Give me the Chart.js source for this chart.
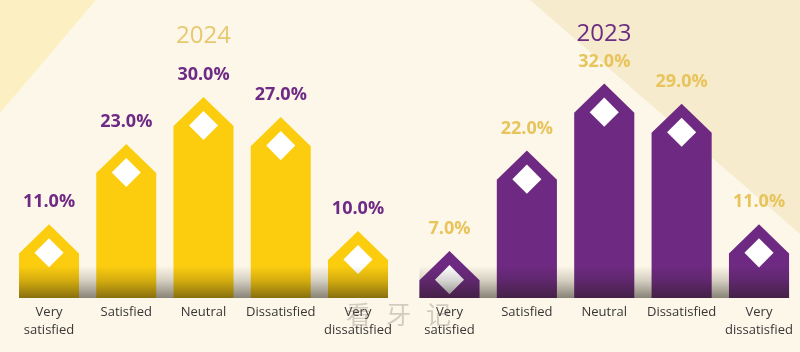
<!DOCTYPE html>
<html>
<head>
<meta charset="utf-8">
<script src="https://cdn.jsdelivr.net/npm/chart.js@4/dist/chart.umd.min.js"></script>
<style>
  html, body { margin:0; padding:0; }
  body { width:800px; height:352px; overflow:hidden; position:relative; background:#FDF7E9; font-family:"Open Sans", sans-serif; }
  .bg { position:absolute; left:0; top:0; width:800px; height:352px; }
  .tl { background:#FCEFC2; clip-path:polygon(0px 0px, 96px 0px, 0px 113px); }
  .tr { background:#F6EBCC; clip-path:polygon(530px 0px, 800px 0px, 800px 234px); }
  canvas { position:absolute; top:0; }
  #c1 { left:0; }
  #c2 { left:400px; }
  .ttl { position:absolute; width:200px; text-align:center; font-family:"Open Sans", sans-serif; font-weight:400; font-size:24px; line-height:30px; }
  .wm { position:absolute; top:298px; font-family:"Noto Sans CJK SC", sans-serif; font-size:25px; line-height:30px; color:rgba(110,105,95,0.30); }
</style>
</head>
<body>
<div class="bg tl"></div>
<div class="bg tr"></div>
<canvas id="c1" width="400" height="352"></canvas>
<canvas id="c2" width="400" height="352"></canvas>
<div class="ttl" id="t1" style="left:103.5px; top:19px; color:#E6C96F;"></div>
<div class="ttl" id="t2" style="left:504px; top:17px; color:#6B2C82;"></div>
<div class="wm" style="left:346px">看</div>
<div class="wm" style="left:386px">牙</div>
<div class="wm" style="left:426px">记</div>
<script>
const categories = [["Very", "satisfied"], "Satisfied", "Neutral", "Dissatisfied", ["Very", "dissatisfied"]];
const values2024 = [11, 23, 30, 27, 10];
const values2023 = [7, 22, 32, 29, 11];
const title2024 = "2024";
const title2023 = "2023";

document.getElementById('t1').textContent = title2024;
document.getElementById('t2').textContent = title2023;

const housePlugin = {
  id: 'house',
  afterDatasetsDraw(chart, args, opts) {
    const ctx = chart.ctx;
    const meta = chart.getDatasetMeta(0);
    const values = chart.data.datasets[0].data;
    ctx.save();
    meta.data.forEach((bar) => {
      const p = bar.getProps(['x', 'y', 'base', 'width'], true);
      const h = p.width / 2;
      ctx.fillStyle = opts.barColor;
      ctx.beginPath();
      ctx.moveTo(p.x - h, p.base);
      ctx.lineTo(p.x - h, p.y + h * 0.97);
      ctx.lineTo(p.x, p.y);
      ctx.lineTo(p.x + h, p.y + h * 0.97);
      ctx.lineTo(p.x + h, p.base);
      ctx.closePath();
      ctx.fill();
      const cy = p.y + h * 0.95;
      const d = p.width * 0.242;
      ctx.fillStyle = '#FFFFFF';
      ctx.beginPath();
      ctx.moveTo(p.x, cy - d);
      ctx.lineTo(p.x + d, cy);
      ctx.lineTo(p.x, cy + d);
      ctx.lineTo(p.x - d, cy);
      ctx.closePath();
      ctx.fill();
    });
    // floor shadow
    const first = meta.data[0], last = meta.data[meta.data.length - 1];
    const left = first.x - first.width / 2, right = last.x + last.width / 2;
    const bottom = chart.chartArea.bottom, top = bottom - 32;
    const g = ctx.createLinearGradient(0, top, 0, bottom);
    g.addColorStop(0, 'rgba(30,25,15,0)');
    g.addColorStop(0.45, 'rgba(30,25,15,0.18)');
    g.addColorStop(1, 'rgba(30,25,15,0.52)');
    ctx.fillStyle = g;
    ctx.fillRect(left, top, right - left, bottom - top);
    // value labels
    ctx.font = 'bold 18px "Open Sans", sans-serif';
    ctx.fillStyle = opts.labelColor;
    ctx.textAlign = 'center';
    ctx.textBaseline = 'middle';
    meta.data.forEach((bar, i) => {
      ctx.fillText(values[i].toFixed(1) + '%', bar.x, bar.y - 22);
    });
    ctx.restore();
  }
};

function makeChart(id, values, barColor, labelColor, padL, padR) {
  return new Chart(document.getElementById(id), {
    type: 'bar',
    data: {
      labels: categories,
      datasets: [{ data: values, backgroundColor: 'rgba(0,0,0,0)', borderWidth: 0, barPercentage: 0.777, categoryPercentage: 1 }]
    },
    options: {
      responsive: false,
      animation: false,
      events: [],
      layout: { padding: { top: 30, left: padL, right: padR, bottom: 0 } },
      plugins: {
        legend: { display: false },
        tooltip: { enabled: false },
        house: { barColor, labelColor }
      },
      scales: {
        y: { display: false, min: 0, max: 40 },
        x: {
          grid: { display: false, drawTicks: false },
          border: { display: false },
          ticks: { color: '#363636', font: { family: '"Open Sans", sans-serif', size: 13, lineHeight: 1.38 }, padding: 5, maxRotation: 0, autoSkip: false },
          afterFit: (scale) => { scale.height = 54; }
        }
      }
    },
    plugins: [housePlugin]
  });
}

function build() {
  makeChart('c1', values2024, '#FCCD0F', '#6E2A84', 10.4, 3.4);
  makeChart('c2', values2023, '#6E2A82', '#E8C45C', 10.8, 2.3);
}

Promise.all([
  document.fonts.load('normal 24px "Open Sans"'),
  document.fonts.load('bold 18px "Open Sans"'),
  document.fonts.load('normal 13px "Open Sans"')
]).then(build, build);
</script>
</body>
</html>
